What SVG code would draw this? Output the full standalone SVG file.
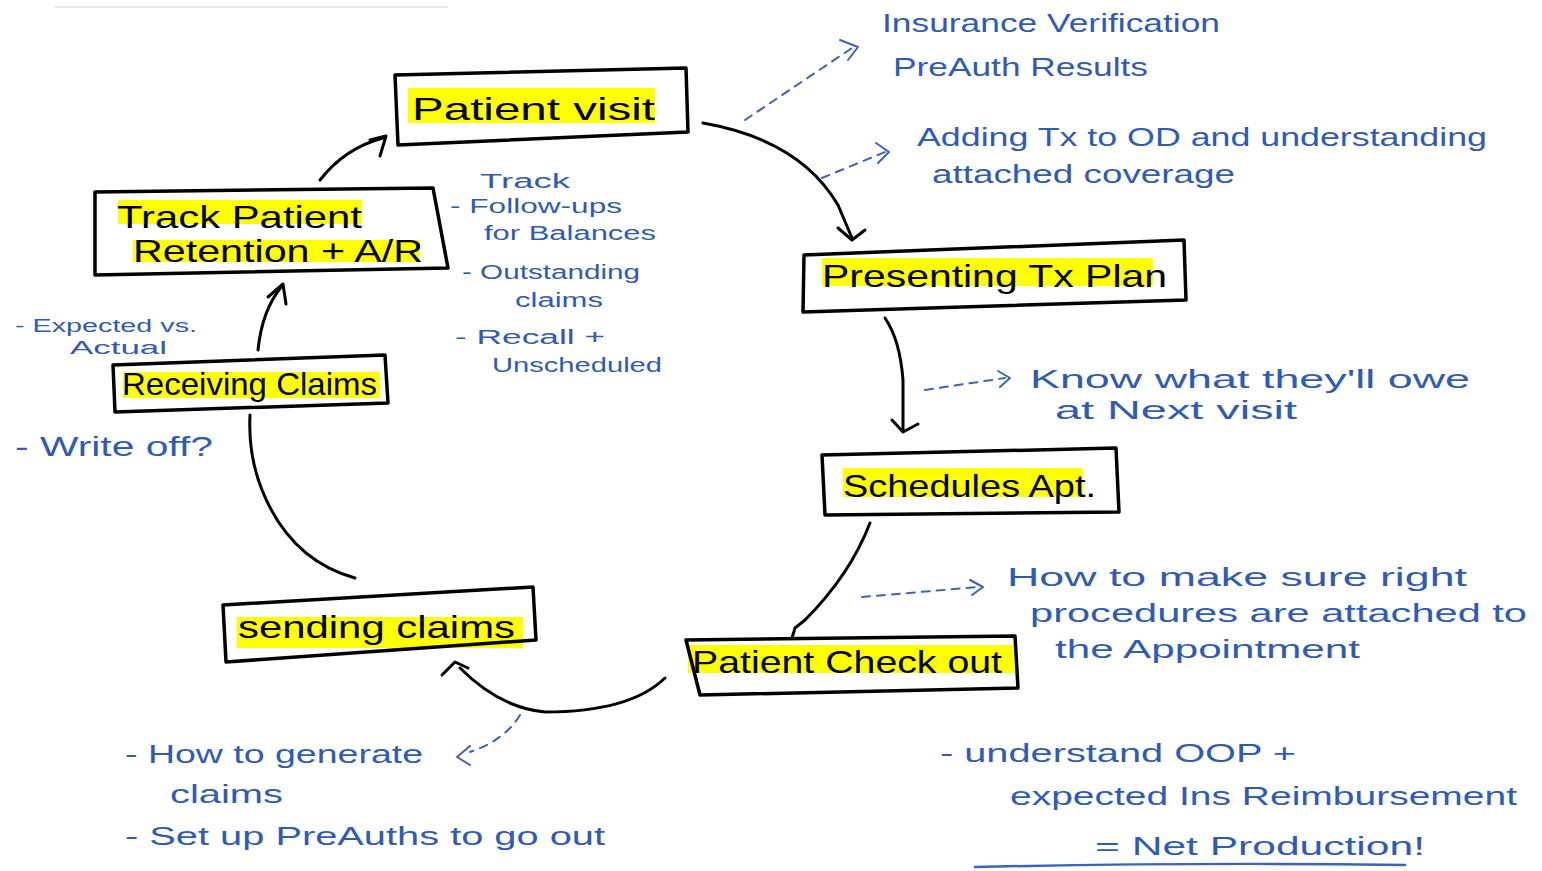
<svg xmlns="http://www.w3.org/2000/svg" width="1542" height="871" viewBox="0 0 1542 871">
<style>
.box{fill:none;stroke:#000;stroke-width:3.5;stroke-linejoin:round}
.hl{fill:#ffff00}
.nt{font-family:"Liberation Sans",Arial,sans-serif;font-size:32px;fill:#000}
.bt{font-family:"Liberation Sans",Arial,sans-serif;font-size:26px;fill:#2f5bb7}
.bt.sm{font-size:20px}
.bt.xs{font-size:18px}
.bt.lg{font-size:28px}
.con{fill:none;stroke:#000;stroke-width:3;stroke-linecap:round;stroke-linejoin:round}
.dash{fill:none;stroke:#3b63bd;stroke-width:2;stroke-dasharray:8 7;stroke-linecap:round}
.ah{fill:none;stroke:#3b63bd;stroke-width:2;stroke-linecap:round;stroke-linejoin:round}
</style>
<rect width="1542" height="871" fill="#fff"/>
<line x1="55" y1="7" x2="448" y2="7" stroke="#dddddd" stroke-width="1.5"/>

<g id="patient-visit">
<rect class="hl" x="408" y="88" width="247" height="35"/>
<polygon class="box" points="395,75 686,68 688,132 398,145"/>
<text class="nt" x="412" y="120" textLength="243" lengthAdjust="spacingAndGlyphs">Patient visit</text>
</g>

<g id="track-retention">
<rect class="hl" x="118" y="200" width="244" height="24"/>
<rect class="hl" x="133" y="240" width="287" height="22"/>
<polygon class="box" points="95,192 433,188 448,268 95,275"/>
<text class="nt" x="117" y="228" textLength="245" lengthAdjust="spacingAndGlyphs">Track Patient</text>
<text class="nt" x="133" y="262" textLength="290" lengthAdjust="spacingAndGlyphs">Retention + A/R</text>
</g>

<g id="receiving-claims">
<rect class="hl" x="123" y="372" width="257" height="26"/>
<polygon class="box" points="113,365 385,355 388,403 115,412"/>
<text class="nt" x="122" y="395" textLength="255" lengthAdjust="spacingAndGlyphs">Receiving Claims</text>
</g>

<g id="sending-claims">
<rect class="hl" x="237" y="617" width="286" height="31"/>
<polygon class="box" points="223,605 533,587 536,640 226,662"/>
<text class="nt" x="238" y="638" textLength="277" lengthAdjust="spacingAndGlyphs">sending claims</text>
</g>

<g id="presenting-tx-plan">
<rect class="hl" x="822" y="258" width="331" height="28"/>
<polygon class="box" points="804,255 1184,240 1186,300 803,312"/>
<text class="nt" x="822" y="287" textLength="345" lengthAdjust="spacingAndGlyphs">Presenting Tx Plan</text>
</g>

<g id="schedules-apt">
<rect class="hl" x="843" y="468" width="240" height="29"/>
<polygon class="box" points="822,455 1116,448 1119,512 825,515"/>
<text class="nt" x="843" y="497" textLength="253" lengthAdjust="spacingAndGlyphs">Schedules Apt.</text>
</g>

<g id="patient-check-out">
<rect class="hl" x="688" y="645" width="328" height="28"/>
<polygon class="box" points="686,640 1015,636 1018,688 700,695"/>
<text class="nt" x="692" y="673" textLength="310" lengthAdjust="spacingAndGlyphs">Patient Check out</text>
</g>

<g id="connectors">
<path class="con" d="M703,123 Q800,140 838,205 L852,238"/>
<path class="con" d="M838,228 L852,240 L865,230"/>
<path class="con" d="M885,318 Q900,340 903,380 L903,430"/>
<path class="con" d="M892,420 L903,432 L918,424"/>
<path class="con" d="M870,523 Q850,575 805,620 L795,628 L792,638"/>
<path class="con" d="M665,678 Q630,712 545,712 Q500,708 460,668"/>
<path class="con" d="M442,675 L455,662 L468,668"/>
<path class="con" d="M355,578 Q290,560 262,490 Q248,455 250,415"/>
<path class="con" d="M258,350 Q262,310 282,286"/>
<path class="con" d="M268,297 L283,284 L286,304"/>
<path class="con" d="M320,180 Q345,148 383,138"/>
<path class="con" d="M370,140 L386,136 L380,156"/>
<path class="dash" d="M745,120 L855,46"/>
<path class="ah" d="M840,40 L858,47 L848,60"/>
<path class="dash" d="M822,178 L885,152"/>
<path class="ah" d="M876,143 L889,152 L878,163"/>
<path class="dash" d="M925,390 L1005,378"/>
<path class="ah" d="M998,371 L1010,378 L1000,387"/>
<path class="dash" d="M862,597 L978,587"/>
<path class="ah" d="M970,580 L983,587 L972,595"/>
<path class="dash" d="M520,715 Q505,740 470,752"/>
<path class="ah" d="M470,746 L457,757 L470,765"/>
</g>

<g id="notes">
<text class="bt" x="882" y="32" textLength="338" lengthAdjust="spacingAndGlyphs">Insurance Verification</text>
<text class="bt" x="893" y="76" textLength="255" lengthAdjust="spacingAndGlyphs">PreAuth Results</text>
<text class="bt" x="917" y="146" textLength="570" lengthAdjust="spacingAndGlyphs">Adding Tx to OD and understanding</text>
<text class="bt" x="932" y="183" textLength="303" lengthAdjust="spacingAndGlyphs">attached coverage</text>

<text class="bt sm" x="480" y="188" textLength="90" lengthAdjust="spacingAndGlyphs">Track</text>
<text class="bt sm" x="450" y="213" textLength="172" lengthAdjust="spacingAndGlyphs">- Follow-ups</text>
<text class="bt sm" x="484" y="240" textLength="172" lengthAdjust="spacingAndGlyphs">for Balances</text>
<text class="bt sm" x="462" y="279" textLength="178" lengthAdjust="spacingAndGlyphs">- Outstanding</text>
<text class="bt sm" x="515" y="307" textLength="88" lengthAdjust="spacingAndGlyphs">claims</text>
<text class="bt sm" x="455" y="344" textLength="150" lengthAdjust="spacingAndGlyphs">- Recall +</text>
<text class="bt sm" x="492" y="372" textLength="170" lengthAdjust="spacingAndGlyphs">Unscheduled</text>

<text class="bt xs" x="15" y="332" textLength="182" lengthAdjust="spacingAndGlyphs">- Expected vs.</text>
<text class="bt xs" x="70" y="354" textLength="97" lengthAdjust="spacingAndGlyphs">Actual</text>
<text class="bt lg" x="15" y="456" textLength="198" lengthAdjust="spacingAndGlyphs">- Write off?</text>

<text class="bt" x="1030" y="388" textLength="440" lengthAdjust="spacingAndGlyphs">Know what they'll owe</text>
<text class="bt" x="1055" y="419" textLength="242" lengthAdjust="spacingAndGlyphs">at Next visit</text>

<text class="bt" x="1007" y="586" textLength="460" lengthAdjust="spacingAndGlyphs">How to make sure right</text>
<text class="bt" x="1030" y="622" textLength="497" lengthAdjust="spacingAndGlyphs">procedures are attached to</text>
<text class="bt" x="1055" y="658" textLength="305" lengthAdjust="spacingAndGlyphs">the Appointment</text>

<text class="bt" x="125" y="763" textLength="298" lengthAdjust="spacingAndGlyphs">- How to generate</text>
<text class="bt" x="170" y="803" textLength="113" lengthAdjust="spacingAndGlyphs">claims</text>
<text class="bt" x="125" y="845" textLength="480" lengthAdjust="spacingAndGlyphs">- Set up PreAuths to go out</text>

<text class="bt" x="940" y="762" textLength="356" lengthAdjust="spacingAndGlyphs">- understand OOP +</text>
<text class="bt" x="1010" y="805" textLength="507" lengthAdjust="spacingAndGlyphs">expected Ins Reimbursement</text>
<text class="bt" x="1095" y="855" textLength="330" lengthAdjust="spacingAndGlyphs">= Net Production!</text>
<path d="M975,867 Q1200,862 1405,865" fill="none" stroke="#3b63bd" stroke-width="2.5" stroke-linecap="round"/>
</g>
</svg>
